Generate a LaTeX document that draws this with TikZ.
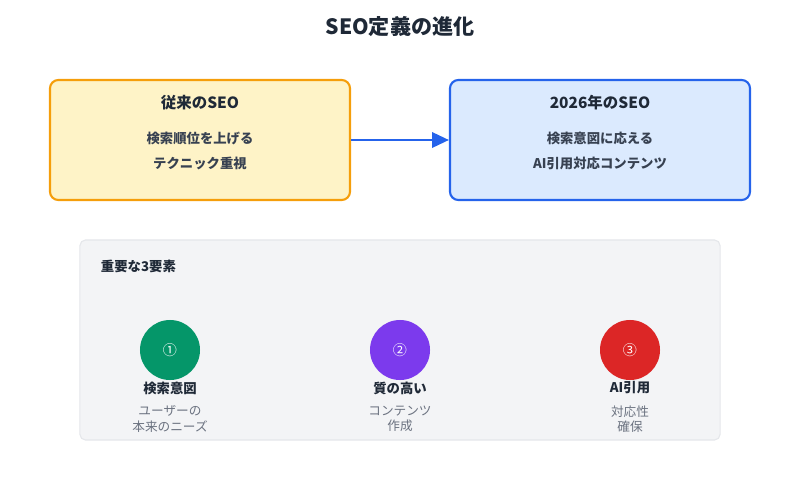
\documentclass[tikz,border=0pt]{standalone}
\usepackage{fontspec}
\setmainfont{Noto Sans CJK JP}
\usetikzlibrary{arrows.meta,positioning}
\definecolor{oldfill}{HTML}{FEF3C7}
\definecolor{olddraw}{HTML}{F59E0B}
\definecolor{newfill}{HTML}{DBEAFE}
\definecolor{newdraw}{HTML}{2563EB}
\definecolor{panelfill}{HTML}{F3F4F6}
\definecolor{paneldraw}{HTML}{E5E7EB}
\definecolor{darktext}{HTML}{1F2937}
\definecolor{bodytext}{HTML}{374151}
\definecolor{graytext}{HTML}{6B7280}
\definecolor{cgreen}{HTML}{059669}
\definecolor{cpurple}{HTML}{7C3AED}
\definecolor{cred}{HTML}{DC2626}
\begin{document}
\begin{tikzpicture}[
    x=0.025cm, y=-0.025cm,
    card/.style={rectangle, rounded corners=6pt, line width=1.5pt, minimum width=7.5cm, minimum height=3cm},
    head/.style={font=\bfseries\fontsize{11}{13}\selectfont, text=darktext},
    body/.style={font=\bfseries\fontsize{9.5}{12}\selectfont, text=bodytext, align=center},
    dot/.style={circle, minimum size=1.5cm, inner sep=0pt, text=white, font=\fontsize{10}{12}\selectfont},
    elname/.style={font=\bfseries\fontsize{9.5}{12}\selectfont, text=darktext},
    note/.style={font=\fontsize{9}{11}\selectfont, text=graytext, align=center},
    arrow/.style={line width=1.5pt, draw=newdraw, -{Triangle[length=12pt,width=11pt]}}
]
\useasboundingbox (0,0) rectangle (800,500);
% Title
\node[font=\bfseries\fontsize{15}{17}\selectfont, text=darktext] (title) at (400,27) {SEO定義の進化};
% Two cards
\node[card, fill=oldfill, draw=olddraw] (old) at (200,140) {};
\node[card, fill=newfill, draw=newdraw] (new) at (600,140) {};
\node[head] (oldhead) at (200,103) {従来のSEO};
\node[body] (oldbody) at (200,151) {検索順位を上げる\\[6pt]テクニック重視};
\node[head] (newhead) at (600,103) {2026年のSEO};
\node[body] (newbody) at (600,151) {検索意図に応える\\[6pt]AI引用対応コンテンツ};
\draw[arrow] (old) -- (new);
% Panel
\node[rectangle, rounded corners=4pt, fill=panelfill, draw=paneldraw, line width=0.8pt,
      minimum width=16cm, minimum height=5cm] (panel) at (400,340) {};
\node[elname, anchor=west] (paneltitle) at (96,266) {重要な3要素};
% Three elements
\node[dot, fill=cgreen] (one) at (170,350) {①};
\node[dot, fill=cpurple] (two) at (400,350) {②};
\node[dot, fill=cred] (three) at (630,350) {③};
\node[elname] (onename) at (170,388) {検索意図};
\node[elname] (twoname) at (400,388) {質の高い};
\node[elname] (threename) at (630,388) {AI引用};
\node[note] (onenote) at (170,419) {ユーザーの\\本来のニーズ};
\node[note] (twonote) at (400,419) {コンテンツ\\作成};
\node[note] (threenote) at (630,419) {対応性\\確保};
\end{tikzpicture}
\end{document}
